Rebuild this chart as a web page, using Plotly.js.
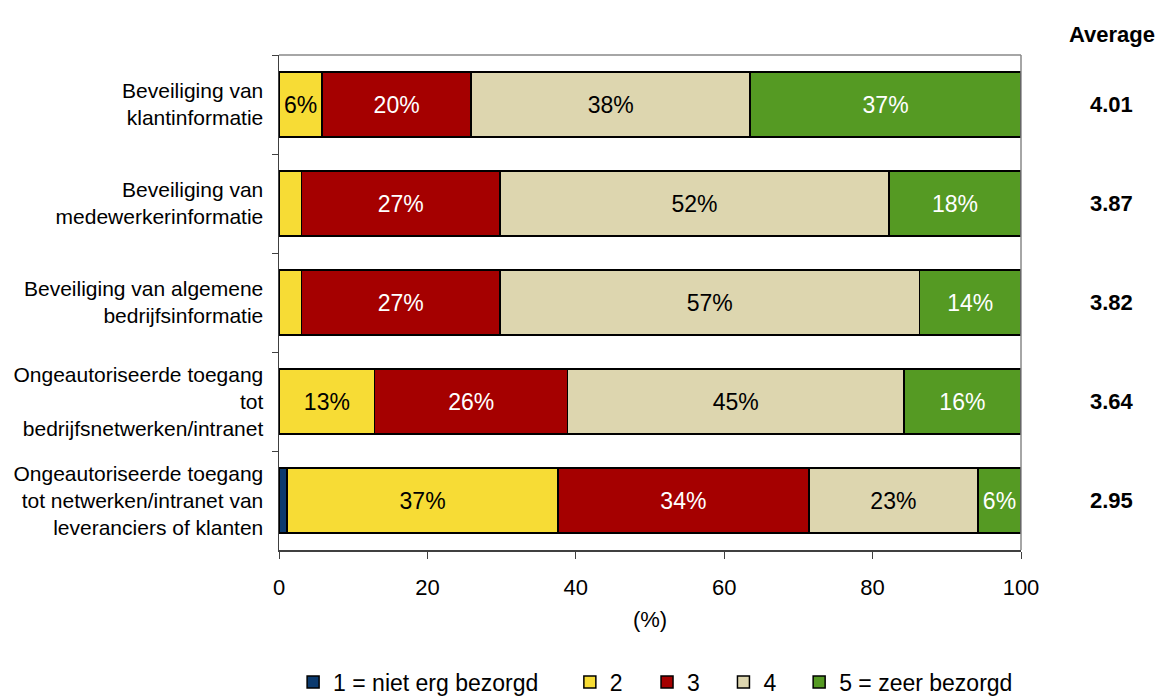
<!DOCTYPE html>
<html>
<head>
<meta charset="utf-8">
<script src="https://cdn.plot.ly/plotly-3.0.1.min.js"></script>
<style>html,body{margin:0;padding:0;background:#fff;}#chart{width:1168px;height:696px;}</style>
</head>
<body>
<div id="chart"></div>
<script>
const categories = [
  "Beveiliging van<br>klantinformatie",
  "Beveiliging van<br>medewerkerinformatie",
  "Beveiliging van algemene<br>bedrijfsinformatie",
  "Ongeautoriseerde toegang<br>tot<br>bedrijfsnetwerken/intranet",
  "Ongeautoriseerde toegang<br>tot netwerken/intranet van<br>leveranciers of klanten"
];
const seriesNames = ["1 = niet erg bezorgd", "2", "3", "4", "5 = zeer bezorgd"];
const s1 = [0, 0, 0, 0, 1.1];
const s2 = [5.8, 3.0, 3.0, 12.9, 36.5];
const s3 = [20.1, 26.8, 26.8, 26.0, 33.8];
const s4 = [37.6, 52.4, 56.5, 45.3, 22.8];
const s5 = [36.5, 17.8, 13.7, 15.8, 5.8];
const averages = ["4.01", "3.87", "3.82", "3.64", "2.95"];

const colors = ["#0B3A6E", "#F7DC35", "#A50000", "#DDD6AF", "#559A23"];
const textColors = ["#ffffff", "#000000", "#ffffff", "#000000", "#ffffff"];
const series = [s1, s2, s3, s4, s5];
const FONT = "Liberation Sans, Arial, sans-serif";
const legendIds = ["legend", "legend2", "legend3", "legend4", "legend5"];
const legendX = [0.019, 0.392, 0.496, 0.599, 0.701];

const traces = series.map((vals, i) => ({
  type: "bar",
  orientation: "h",
  name: seriesNames[i],
  legend: legendIds[i],
  y: categories,
  x: vals,
  text: vals.map(v => v >= 5 ? Math.round(v) + "%" : ""),
  textposition: "inside",
  insidetextanchor: "middle",
  constraintext: "none",
  textfont: {family: FONT, size: 23, color: textColors[i]},
  marker: {color: colors[i], line: {color: "#000000", width: 1.5}},
  hoverinfo: "name+x"
}));

const annotations = categories.map((c, i) => ({
  xref: "paper", yref: "y", x: 1.1226, y: c, xanchor: "center",
  text: "<b>" + averages[i] + "</b>", showarrow: false,
  font: {family: FONT, size: 22, color: "#000"}
}));
annotations.push({
  xref: "paper", yref: "paper", x: 1.1226, y: 1.0707, xanchor: "center",
  text: "<b>Average</b>", showarrow: false,
  font: {family: FONT, size: 22, color: "#000"}
});

const layout = {
  width: 1168, height: 696,
  margin: {l: 279, r: 147, t: 55, b: 146, autoexpand: false},
  barmode: "stack",
  bargap: 0.34,
  paper_bgcolor: "#fff", plot_bgcolor: "#fff",
  font: {family: FONT, size: 21, color: "#000"},
  xaxis: {
    range: [0, 100], tickvals: [0, 20, 40, 60, 80, 100],
    showgrid: false, zeroline: false, automargin: false,
    showline: true, linecolor: "#404040", linewidth: 1.5,
    ticks: "outside", ticklen: 7, tickcolor: "#404040",
    ticklabelstandoff: 10,
    tickfont: {size: 22},
    title: {text: "(%)", font: {size: 22}, standoff: 12}
  },
  yaxis: {
    autorange: "reversed", automargin: false,
    showgrid: false, zeroline: false,
    showline: true, linecolor: "#404040", linewidth: 1.5,
    ticks: "outside", tickson: "boundaries", ticklen: 6, tickcolor: "#404040",
    ticklabelstandoff: 10,
    tickfont: {size: 21}
  },
  shapes: [
    {type: "line", xref: "paper", yref: "paper", x0: 0, x1: 1, y0: 1, y1: 1, line: {color: "#888", width: 1.5}},
    {type: "line", xref: "paper", yref: "paper", x0: 1, x1: 1, y0: 0, y1: 1, line: {color: "#888", width: 1.5}}
  ],
  showlegend: true,
  annotations: annotations
};
legendIds.forEach((id, i) => {
  layout[id] = {
    orientation: "h", xanchor: "left", yanchor: "middle",
    x: legendX[i], y: -0.2667,
    font: {size: 23}, itemwidth: 30, bgcolor: "rgba(0,0,0,0)"
  };
});

Plotly.newPlot("chart", traces, layout, {displayModeBar: false, staticPlot: true});
</script>
</body>
</html>
